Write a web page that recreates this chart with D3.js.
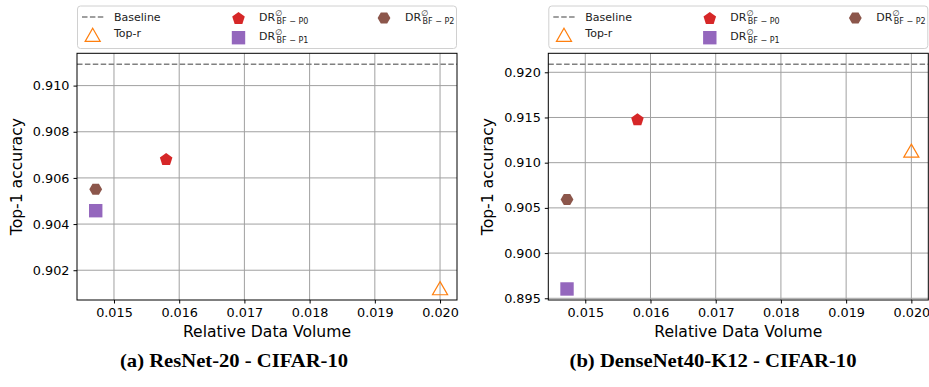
<!DOCTYPE html>
<html><head><meta charset="utf-8">
<script src="https://cdn.jsdelivr.net/npm/d3@7/dist/d3.min.js"></script>
<style>body{margin:0;background:#fff}svg{display:block}</style>
</head><body>
<svg id="c" width="929" height="387"></svg>
<script>
// ---- data ----
const seriesKeys = ["Top-r", "P0", "P1", "P2"];
const volume = [0.0200, 0.0158, 0.01472, 0.01472];
const accResNet = [0.90115, 0.90682, 0.90458, 0.90551];
const accDenseNet = [0.91115, 0.91480, 0.89603, 0.90592];
const baselineResNet = 0.91093;
const baselineDenseNet = 0.92088;
const xTicks = [0.015, 0.016, 0.017, 0.018, 0.019, 0.020];
const yTicksResNet = [0.902, 0.904, 0.906, 0.908, 0.910];
const yTicksDenseNet = [0.895, 0.900, 0.905, 0.910, 0.915, 0.920];
const captions = ["(a) ResNet-20 - CIFAR-10", "(b) DenseNet40-K12 - CIFAR-10"];

const colors = {"Top-r": "#ff7f0e", "P0": "#d62728", "P1": "#9467bd", "P2": "#8c564b"};
const svg = d3.select("#c");
const FONT = "DejaVu Sans";

function shape(key, cx, cy, g) {
  if (key === "Top-r") {
    const r = 8.2;
    const pts = [[0, -r], [r * 0.92, r * 0.6], [-r * 0.92, r * 0.6]];
    g.append("polygon").attr("points", pts.map(p => [cx + p[0], cy + p[1]].join(",")).join(" "))
      .attr("fill", "none").attr("stroke", colors[key]).attr("stroke-width", 1.2);
  } else if (key === "P0") {
    const r = 6.6;
    const pts = d3.range(5).map(i => { const a = -Math.PI / 2 + i * 2 * Math.PI / 5; return [cx + r * Math.cos(a), cy + r * Math.sin(a) + 0.6]; });
    g.append("polygon").attr("points", pts.map(p => p.join(",")).join(" ")).attr("fill", colors[key]);
  } else if (key === "P1") {
    const s = 13.4;
    g.append("rect").attr("x", cx - s / 2).attr("y", cy - s / 2).attr("width", s).attr("height", s).attr("fill", colors[key]);
  } else {
    const r = 6.4;
    const pts = d3.range(6).map(i => { const a = i * Math.PI / 3; return [cx + r * Math.cos(a), cy + r * Math.sin(a)]; });
    g.append("polygon").attr("points", pts.map(p => p.join(",")).join(" ")).attr("fill", colors[key]);
  }
}

function drLabel(g, x, y, sub) {
  const t = g.append("text").attr("x", x).attr("y", y).attr("font-family", FONT).attr("font-size", 11).attr("fill", "#222");
  t.append("tspan").text("DR");
  t.append("tspan").attr("font-size", 8).attr("dy", -5).text("\u2205");
  const t2 = g.append("text").attr("x", x + 17.5).attr("y", y + 3).attr("font-family", FONT).attr("font-size", 8).attr("fill", "#222");
  t2.text("BF \u2212 " + sub);
}

function panel(ox, acc, baseline, yTicks, yDomain, caption, capX, capW) {
  const L = ox + 77, R = ox + 457, T = 53.3, B = 300;
  const x = d3.scaleLinear().domain([0.014433, 0.02026]).range([L, R]);
  const y = d3.scaleLinear().domain(yDomain).range([B, T]);
  const g = svg.append("g");

  // grid
  g.append("g").selectAll("line").data(xTicks).join("line")
    .attr("x1", d => x(d)).attr("x2", d => x(d)).attr("y1", T).attr("y2", B)
    .attr("stroke", "#a0a0a0").attr("stroke-width", 1);
  g.append("g").selectAll("line").data(yTicks).join("line")
    .attr("x1", L).attr("x2", R).attr("y1", d => y(d)).attr("y2", d => y(d))
    .attr("stroke", "#a0a0a0").attr("stroke-width", 1);

  // baseline
  g.append("line").attr("x1", L).attr("x2", R).attr("y1", y(baseline)).attr("y2", y(baseline))
    .attr("stroke", "#808080").attr("stroke-width", 1.5).attr("stroke-dasharray", "5.5,2.4");

  // axes
  const xa = g.append("g").attr("transform", `translate(0,${B})`)
    .call(d3.axisBottom(x).tickValues(xTicks).tickFormat(d3.format(".3f")).tickSize(3.5).tickPadding(4));
  const ya = g.append("g").attr("transform", `translate(${L},0)`)
    .call(d3.axisLeft(y).tickValues(yTicks).tickFormat(d3.format(".3f")).tickSize(3.5).tickPadding(4));
  [xa, ya].forEach(a => {
    a.select(".domain").remove();
    a.selectAll("text").attr("font-family", FONT).attr("font-size", 12.8).attr("fill", "#000");
    a.selectAll("line").attr("stroke", "#000");
  });
  g.append("rect").attr("x", L).attr("y", T).attr("width", R - L).attr("height", B - T)
    .attr("fill", "none").attr("stroke", "#000").attr("stroke-width", 1);

  // points
  seriesKeys.forEach((k, i) => shape(k, x(volume[i]), y(acc[i]), g));

  // labels
  g.append("text").attr("x", (L + R) / 2).attr("y", 337).attr("text-anchor", "middle")
    .attr("font-family", FONT).attr("font-size", 15.6).text("Relative Data Volume");
  g.append("text").attr("transform", `translate(${ox + 22},${(T + B) / 2}) rotate(-90)`).attr("text-anchor", "middle")
    .attr("font-family", FONT).attr("font-size", 15.6).text("Top-1 accuracy");

  // legend
  const lg = g.append("g");
  lg.append("rect").attr("x", ox + 77.5).attr("y", 6).attr("width", 379).attr("height", 42.5).attr("rx", 3)
    .attr("fill", "#fff").attr("fill-opacity", 0.8).attr("stroke", "#d0d0d0").attr("stroke-width", 1);
  lg.append("line").attr("x1", ox + 82).attr("x2", ox + 104).attr("y1", 17).attr("y2", 17)
    .attr("stroke", "#808080").attr("stroke-width", 1.5).attr("stroke-dasharray", "5.5,2.4");
  lg.append("text").attr("x", ox + 114).attr("y", 21).attr("font-family", FONT).attr("font-size", 11).attr("fill", "#222").text("Baseline");
  shape("Top-r", ox + 92.7, 36.5, lg);
  lg.append("text").attr("x", ox + 114).attr("y", 37).attr("font-family", FONT).attr("font-size", 11).attr("fill", "#222").text("Top-r");
  shape("P0", ox + 238.5, 18, lg);
  drLabel(lg, ox + 259, 21, "P0");
  shape("P1", ox + 238.5, 37.7, lg);
  drLabel(lg, ox + 259, 40, "P1");
  shape("P2", ox + 384, 18, lg);
  drLabel(lg, ox + 405, 21, "P2");

  // caption
  svg.append("text").attr("x", capX).attr("y", 367).attr("text-anchor", "middle")
    .attr("font-family", "Liberation Serif").attr("font-weight", "bold").attr("font-size", 19.5)
    .attr("textLength", capW).attr("lengthAdjust", "spacingAndGlyphs").text(caption);
}

panel(0, accResNet, baselineResNet, yTicksResNet, [0.90071, 0.9114], captions[0], 234, 228);
panel(471.3, accDenseNet, baselineDenseNet, yTicksDenseNet, [0.89481, 0.9221], captions[1], 713, 287);
</script>
</body></html>
